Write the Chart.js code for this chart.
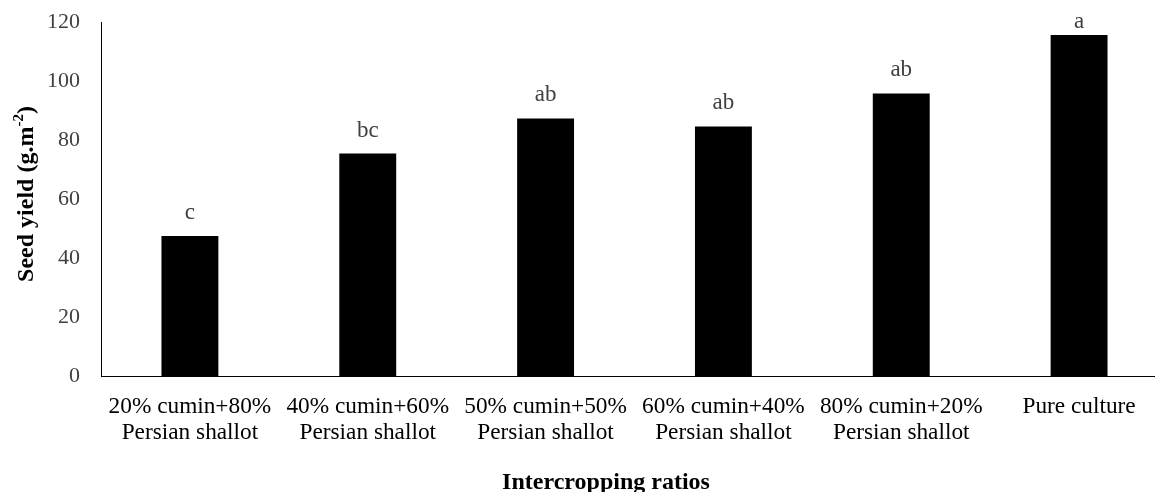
<!DOCTYPE html>
<html>
<head>
<meta charset="utf-8">
<script src="https://cdn.jsdelivr.net/npm/chart.js@4.4.1/dist/chart.umd.min.js"></script>
<style>
  html, body { margin: 0; padding: 0; background: #fff; overflow: hidden; }
  #wrap { width: 1155px; height: 492px; overflow: hidden; }
  #c { display: block; }
</style>
</head>
<body>
<div id="wrap"><canvas id="c" width="1172" height="492"></canvas></div>
<script>
// Intercropping treatments (two-line axis labels)
const categories = [
  ["20% cumin+80%", "Persian shallot"],
  ["40% cumin+60%", "Persian shallot"],
  ["50% cumin+50%", "Persian shallot"],
  ["60% cumin+40%", "Persian shallot"],
  ["80% cumin+20%", "Persian shallot"],
  "Pure culture"
];
// Seed yield (g.m-2)
const seedYield = [47.5, 75.4, 87.3, 84.6, 95.8, 115.6];
// Mean separation letters
const letters = ["c", "bc", "ab", "ab", "ab", "a"];
// Y axis ticks
const yTicks = [0, 20, 40, 60, 80, 100, 120];

const SERIF = '"Liberation Serif", "Times New Roman", serif';

// Letters above bars, plus axis titles (the y title carries a superscript)
const annotate = {
  id: 'annotate',
  afterDatasetsDraw(chart) {
    const ctx = chart.ctx;
    const area = chart.chartArea;
    const meta = chart.getDatasetMeta(0);
    ctx.save();
    ctx.font = '23px ' + SERIF;
    ctx.fillStyle = '#404040';
    ctx.textAlign = 'center';
    ctx.textBaseline = 'alphabetic';
    meta.data.forEach((bar, i) => {
      const y = Math.max(bar.y - 17, area.top + 6);
      ctx.fillText(letters[i], bar.x, y);
    });

    // x axis title
    ctx.fillStyle = '#000';
    ctx.font = 'bold 24px ' + SERIF;
    ctx.fillText('Intercropping ratios', 606, 489);

    // y axis title, rotated, with superscript "-2"
    const main = 'Seed yield (g.m';
    const sup = '-2';
    const close = ')';
    ctx.font = 'bold 24px ' + SERIF;
    const wMain = ctx.measureText(main).width;
    const wClose = ctx.measureText(close).width;
    ctx.font = 'bold 15px ' + SERIF;
    const wSup = ctx.measureText(sup).width;
    const total = wMain + wSup + wClose;
    ctx.translate(33, 194);
    ctx.rotate(-Math.PI / 2);
    ctx.textAlign = 'left';
    let x = -total / 2;
    ctx.font = 'bold 24px ' + SERIF;
    ctx.fillText(main, x, 0);
    x += wMain;
    ctx.font = 'bold 15px ' + SERIF;
    ctx.fillText(sup, x, -10);
    x += wSup;
    ctx.font = 'bold 24px ' + SERIF;
    ctx.fillText(close, x, 0);
    ctx.restore();
  }
};

new Chart(document.getElementById('c'), {
  type: 'bar',
  data: {
    labels: categories,
    datasets: [{
      data: seedYield,
      backgroundColor: '#000',
      borderWidth: 0,
      barPercentage: 0.32,
      categoryPercentage: 1.0
    }]
  },
  options: {
    responsive: false,
    animation: false,
    layout: { autoPadding: false, padding: { top: 22, right: 4, left: 0, bottom: 0 } },
    plugins: {
      legend: { display: false },
      tooltip: { enabled: false }
    },
    scales: {
      x: {
        offset: true,
        grid: { display: false, drawTicks: false },
        border: { display: true, color: '#000', width: 1 },
        ticks: {
          color: '#000',
          font: { family: SERIF, size: 23.3, lineHeight: 1.1 },
          padding: 18,
          maxRotation: 0,
          autoSkip: false
        },
        afterFit(scale) {
          scale.height = 116;
          scale.paddingLeft = 0; scale.paddingRight = 0;
          scale.paddingTop = 0; scale.paddingBottom = 0;
        }
      },
      y: {
        min: 0,
        max: 120,
        grid: { display: false, drawTicks: false },
        border: { display: true, color: '#000', width: 1 },
        afterBuildTicks(scale) { scale.ticks = yTicks.map(v => ({ value: v })); },
        ticks: {
          color: '#404040',
          font: { family: SERIF, size: 22 },
          padding: 21
        },
        afterFit(scale) {
          scale.width = 101;
          scale.paddingTop = 0; scale.paddingBottom = 0;
          scale.paddingLeft = 0; scale.paddingRight = 0;
        }
      }
    }
  },
  plugins: [annotate]
});
</script>
</body>
</html>
